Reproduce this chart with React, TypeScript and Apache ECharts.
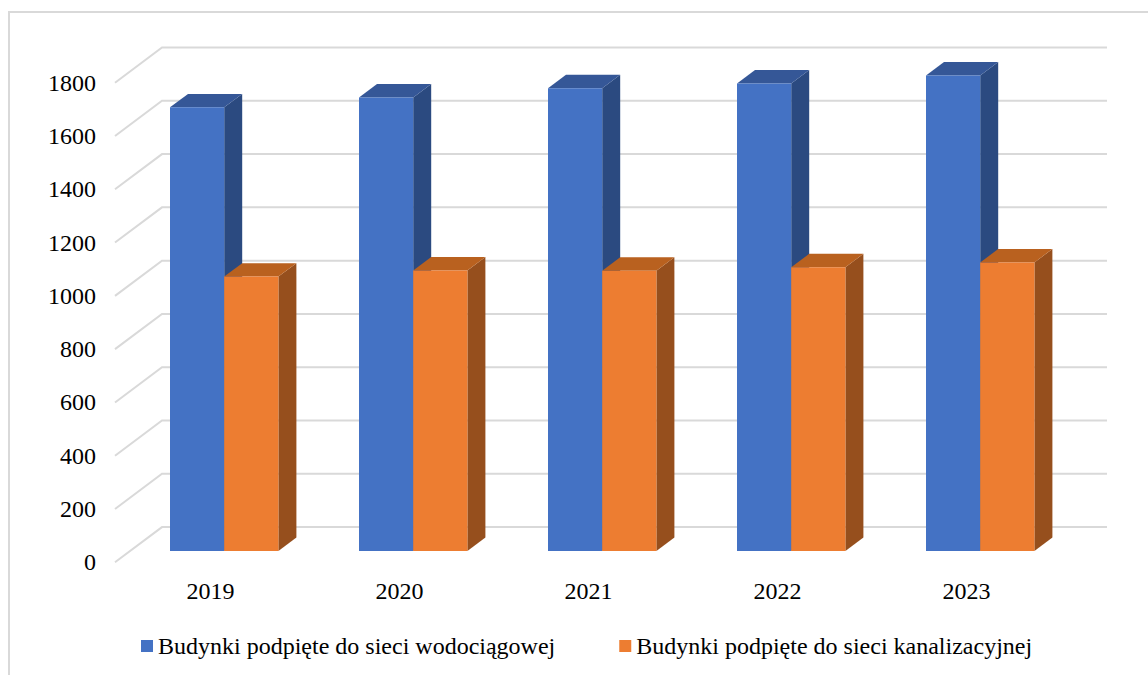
import React, { useEffect, useRef } from "react";
import * as echarts from "echarts";

const categories = ["2019", "2020", "2021", "2022", "2023"];
const waterName = "Budynki podpięte do sieci wodociągowej";
const sewerName = "Budynki podpięte do sieci kanalizacyjnej";
const waterValues = [1665, 1702, 1737, 1755, 1785];
const sewerValues = [1030, 1053, 1052, 1065, 1083];
const tickValues = [0, 200, 400, 600, 800, 1000, 1200, 1400, 1600, 1800];

const FONT = "Liberation Serif";
const GRID_DX = 47;
const GRID_DY = 35.2;
const BAR_OFFSET_X = 14.7;
const BAR_OFFSET_Y = 11.3;
const DEPTH_X = 18;
const DEPTH_Y = 13.4;
const BAR_RATIO = 54.2 / 189;

function gridLines(params: any, api: any) {
  const p = api.coord([0, api.value(1)]);
  const r = params.coordSys;
  const x0 = r.x;
  const y0 = p[1];
  return {
    type: "polyline",
    shape: {
      points: [
        [x0, y0],
        [x0 + GRID_DX, y0 - GRID_DY],
        [x0 + GRID_DX + r.width, y0 - GRID_DY],
      ],
    },
    style: { fill: "none", stroke: "#d9d9d9", lineWidth: 2 },
  };
}

function cuboid(side: number, front: string, top: string, right: string) {
  return (_params: any, api: any) => {
    const tp = api.coord([api.value(0), api.value(1)]);
    const base = api.coord([api.value(0), 0]);
    const w = api.size([1, 0])[0] * BAR_RATIO;
    const x0 = tp[0] + BAR_OFFSET_X + (side === 0 ? -w : 0);
    const x1 = x0 + w;
    const yt = tp[1] - BAR_OFFSET_Y;
    const yb = base[1] - BAR_OFFSET_Y;
    return {
      type: "group",
      children: [
        {
          type: "polygon",
          shape: { points: [[x1, yt], [x1 + DEPTH_X, yt - DEPTH_Y], [x1 + DEPTH_X, yb - DEPTH_Y], [x1, yb]] },
          style: { fill: right },
        },
        {
          type: "polygon",
          shape: { points: [[x0, yt], [x0 + DEPTH_X, yt - DEPTH_Y], [x1 + DEPTH_X, yt - DEPTH_Y], [x1, yt]] },
          style: { fill: top },
        },
        {
          type: "polygon",
          shape: { points: [[x0, yt], [x1, yt], [x1, yb], [x0, yb]] },
          style: { fill: front },
        },
      ],
    };
  };
}

export default function App() {
  const ref = useRef<HTMLDivElement>(null);
  useEffect(() => {
    document.body.style.margin = "0";
    const chart = echarts.init(ref.current!, undefined, { renderer: "svg" });
    chart.setOption({
      animation: false,
      backgroundColor: "#ffffff",
      textStyle: { fontFamily: FONT },
      grid: { left: 115, top: 82.7, width: 945, height: 479.6, containLabel: false },
      xAxis: {
        type: "category",
        data: categories,
        axisLine: { show: false },
        axisTick: { show: false },
        splitLine: { show: false },
        axisLabel: { fontFamily: FONT, fontSize: 24, color: "#000", margin: 17, padding: [0, 0, 0, 2] },
      },
      yAxis: {
        type: "value",
        min: 0,
        max: 1800,
        interval: 200,
        axisLine: { show: false },
        axisTick: { show: false },
        splitLine: { show: false },
        axisLabel: {
          fontFamily: FONT,
          fontSize: 24,
          color: "#000",
          margin: 19,
          formatter: (v: number) => String(v),
        },
      },
      legend: {
        show: true,
        data: [
          { name: waterName, icon: "rect", itemStyle: { color: "#4472c4" } },
          { name: sewerName, icon: "rect", itemStyle: { color: "#ed7d31" } },
        ],
        left: 136,
        top: 629,
        itemWidth: 12,
        itemHeight: 12,
        itemGap: 64,
        textStyle: { fontFamily: FONT, fontSize: 24, color: "#000" },
      },
      graphic: [
        {
          type: "rect",
          shape: { x: 9, y: 12, width: 1300, height: 800 },
          style: { fill: "none", stroke: "#d9d9d9", lineWidth: 2 },
          silent: true,
          z: 0,
        },
      ],
      series: [
        {
          type: "custom",
          name: "grid",
          renderItem: gridLines,
          data: tickValues.map((v) => [0, v]),
          encode: { x: 0, y: 1 },
          clip: false,
          silent: true,
          z: 1,
        },
        {
          type: "custom",
          name: waterName,
          renderItem: cuboid(0, "#4472c4", "#355797", "#2b4a80"),
          data: waterValues.map((v, i) => [i, v]),
          encode: { x: 0, y: 1 },
          itemStyle: { color: "#4472c4" },
          clip: false,
          silent: true,
          z: 2,
        },
        {
          type: "custom",
          name: sewerName,
          renderItem: cuboid(1, "#ed7d31", "#b9611f", "#964f1d"),
          data: sewerValues.map((v, i) => [i, v]),
          encode: { x: 0, y: 1 },
          itemStyle: { color: "#ed7d31" },
          clip: false,
          silent: true,
          z: 3,
        },
      ],
    });
    return () => chart.dispose();
  }, []);
  return <div ref={ref} style={{ width: 1148, height: 675, overflow: "hidden" }} />;
}
